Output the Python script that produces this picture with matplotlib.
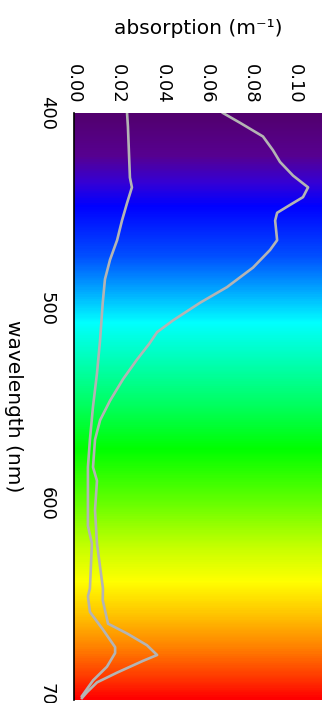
import numpy as np
import matplotlib
matplotlib.use("Agg")
import matplotlib.pyplot as plt
from matplotlib.colors import LinearSegmentedColormap

# upper curve (larger absorption)
wl_a = [400, 405, 412, 419, 425, 432, 438, 443, 447, 451, 455, 465, 470, 479,
        489, 497, 506, 512, 518, 526, 536, 547, 557, 567, 581, 588, 603, 620,
        632, 643, 649, 661, 666, 672, 677, 680, 686, 691, 696, 699]
abs_a = [0.0674, 0.0751, 0.0855, 0.0900, 0.0932, 0.0991, 0.1059, 0.1036,
         0.0977, 0.0919, 0.0910, 0.0919, 0.0887, 0.0810, 0.0692, 0.0570,
         0.0448, 0.0376, 0.0340, 0.0285, 0.0222, 0.0163, 0.0118, 0.0095,
         0.0086, 0.0104, 0.0095, 0.0104, 0.0118, 0.0131, 0.0130, 0.0154,
         0.0240, 0.0330, 0.0376, 0.0312, 0.0195, 0.0104, 0.0059, 0.0036]

# lower curve
wl_b = [400, 407, 433, 438, 446, 455, 465, 475, 485, 497, 516, 533, 550, 567,
        581, 611, 620, 643, 647, 655, 664, 673, 676, 683, 690, 698]
abs_b = [0.0240, 0.0244, 0.0253, 0.0262, 0.0240, 0.0217, 0.0195, 0.0163,
         0.0140, 0.0130, 0.0118, 0.0104, 0.0086, 0.0072, 0.0063, 0.0063,
         0.0081, 0.0072, 0.0063, 0.0072, 0.0131, 0.0186, 0.0186, 0.0149,
         0.0086, 0.0036]

x_ticks = [0.00, 0.02, 0.04, 0.06, 0.08, 0.10]
y_ticks = [400, 500, 600, 700]

# spectrum colours (wavelength, colour)
spec_wl = [400, 421, 435, 447, 473, 489, 507, 532, 549, 572, 598, 623, 640,
           658, 674, 691, 700]
spec_col = ["#52006e", "#570090", "#3500d5", "#0000ff", "#0050ff", "#00a0ff",
            "#00ffff", "#00ffa0", "#00ff60", "#00ff00", "#60ff00", "#c8ff00",
            "#ffff00", "#ffc000", "#ff8000", "#ff3000", "#ff0000"]

wmin, wmax = 400, 700
amax = 0.1122

fig = plt.figure(figsize=(3.27, 7.03), dpi=100)
ax = fig.add_axes([74 / 327, 1 - 700 / 703, 248 / 327, 587 / 703])

cmap = LinearSegmentedColormap.from_list(
    "spec", list(zip([(w - wmin) / (wmax - wmin) for w in spec_wl], spec_col)))
grad = np.linspace(0, 1, 600).reshape(-1, 1)
ax.imshow(grad, cmap=cmap, aspect="auto", extent=[0, amax, wmax, wmin],
          interpolation="bilinear", zorder=0)

line_kw = dict(color="#b4b4b4", lw=1.9, solid_joinstyle="round", zorder=2)
ax.plot(abs_a, wl_a, **line_kw)
ax.plot(abs_b, wl_b, **line_kw)

ax.set_xlim(0, amax)
ax.set_ylim(wmax, wmin)

ax.xaxis.tick_top()
ax.xaxis.set_label_position("top")
ax.set_xticks(x_ticks)
ax.set_xticklabels(["%.2f" % v for v in x_ticks])
ax.set_yticks(y_ticks)
ax.set_yticklabels([str(v) for v in y_ticks])
ax.tick_params(axis="x", length=0, pad=7, labelsize=13, labelrotation=270)
ax.tick_params(axis="y", length=0, pad=13, labelsize=13, labelrotation=270)
for lab in ax.get_yticklabels():
    lab.set_va("center")

ax.set_xlabel("absorption (m⁻¹)", fontsize=14.5, ha="center", va="center")
ax.xaxis.set_label_coords(0.5, 1 + (113 - 29) / 587)
ax.set_ylabel("wavelength (nm)", fontsize=14.5, rotation=270,
              ha="center", va="center")
ax.yaxis.set_label_coords((13 - 74) / 248, 0.5)

for side in ["top", "right", "bottom"]:
    ax.spines[side].set_visible(False)
ax.spines["left"].set_color("black")
ax.spines["left"].set_linewidth(1.2)

fig.savefig("out.png", dpi=100)
